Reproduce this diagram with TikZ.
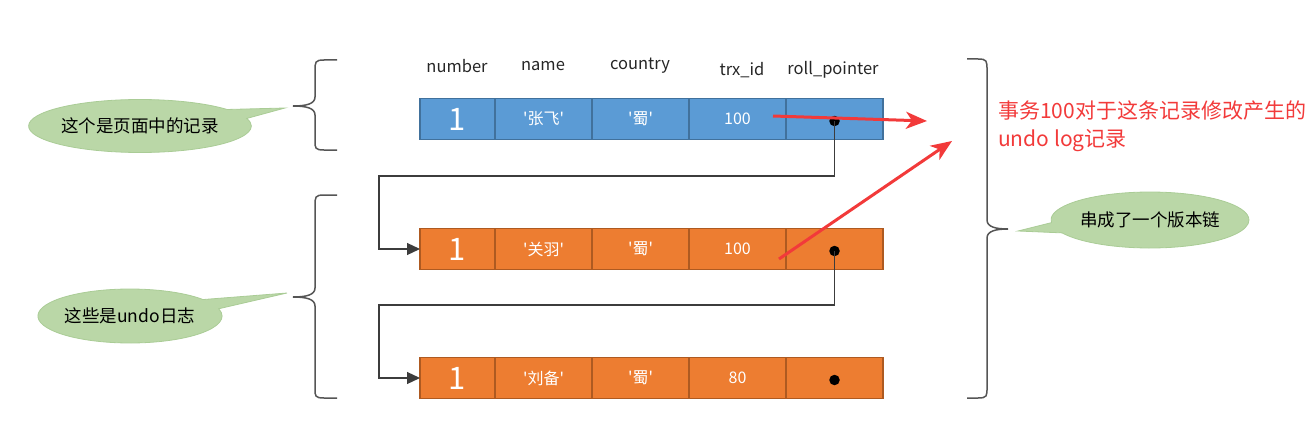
\documentclass[tikz,border=0pt]{standalone}
\usepackage{fontspec}
\setmainfont{Noto Sans CJK SC}
\usetikzlibrary{positioning,arrows.meta,shapes.callouts}

\definecolor{pagefill}{RGB}{91,155,213}
\definecolor{pageedge}{RGB}{65,113,156}
\definecolor{undofill}{RGB}{237,125,49}
\definecolor{undoedge}{RGB}{174,90,33}
\definecolor{bubblefill}{RGB}{186,215,167}
\definecolor{bubbleedge}{RGB}{170,204,150}
\definecolor{markred}{RGB}{242,58,58}
\definecolor{linegray}{RGB}{60,60,60}
\definecolor{bracegray}{RGB}{85,85,85}

\newcommand{\squote}{\textquotesingle}

\tikzset{
  cell/.style={minimum height=41pt, minimum width=97pt, inner sep=0pt, outer sep=0pt,
    line width=1.5pt, text=white, font=\fontsize{16}{16}\selectfont},
  pagecell/.style={cell, draw=pageedge, fill=pagefill},
  undocell/.style={cell, draw=undoedge, fill=undofill},
  numcell/.style={minimum width=75pt, font=\fontsize{31}{31}\selectfont},
  colhead/.style={text=black!85, font=\fontsize{16.5}{16.5}\selectfont},
  dot/.style={circle, fill=black, inner sep=0pt, minimum size=10.5pt},
  chain/.style={draw=linegray, line width=1.2pt, -{Triangle[length=13pt,width=12pt]}},
  redmark/.style={draw=markred, line width=3pt, -{Stealth[length=21pt,width=17pt,inset=6pt]}},
  curly/.style={draw=bracegray, line width=1.5pt},
  bubble/.style={ellipse callout, fill=bubblefill, draw=bubbleedge, line width=0.8pt,
    callout pointer arc=22, inner sep=0pt, font=\fontsize{17.5}{17.5}\selectfont},
  note/.style={text=markred, align=left, inner sep=0pt, font=\fontsize{21}{28}\selectfont}
}

\begin{document}
\begin{tikzpicture}[x=1pt, y=-1pt]
  \useasboundingbox (0,0) rectangle (1316,428);

  % column titles
  \node[colhead] (hnumber) at (457,66) {number};
  \node[colhead] (hname) at (543,66) {name};
  \node[colhead] (hcountry) at (640,66) {country};
  \node[colhead] (htrx) at (742,70) {trx\_id};
  \node[colhead] (hroll) at (833,70) {roll\_pointer};

  % record in the page
  \node[pagecell, numcell, anchor=west] (p1) at (420,119) {1};
  \node[pagecell, right=0pt of p1] (p2) {\squote 张飞\squote};
  \node[pagecell, right=0pt of p2] (p3) {\squote 蜀\squote};
  \node[pagecell, right=0pt of p3] (p4) {100};
  \node[pagecell, right=0pt of p4] (p5) {};

  % undo log records
  \node[undocell, numcell, anchor=west] (q1) at (420,249) {1};
  \node[undocell, right=0pt of q1] (q2) {\squote 关羽\squote};
  \node[undocell, right=0pt of q2] (q3) {\squote 蜀\squote};
  \node[undocell, right=0pt of q3] (q4) {100};
  \node[undocell, right=0pt of q4] (q5) {};

  \node[undocell, numcell, anchor=west] (r1) at (420,378) {1};
  \node[undocell, right=0pt of r1] (r2) {\squote 刘备\squote};
  \node[undocell, right=0pt of r2] (r3) {\squote 蜀\squote};
  \node[undocell, right=0pt of r3] (r4) {80};
  \node[undocell, right=0pt of r4] (r5) {};

  \node[dot] (dp) at ([yshift=-2pt]p5.center) {};
  \node[dot] (dq) at ([yshift=-2pt]q5.center) {};
  \node[dot] (dr) at ([yshift=-2pt]r5.center) {};

  % version chain
  \coordinate (k1) at (379,176);
  \coordinate (k2) at (379,305);
  \draw[chain] (dp.center) |- (k1) |- (q1.west);
  \draw[chain] (dq.center) |- (k2) |- (r1.west);

  % braces
  \draw[curly] (337,60) -- (324,60) .. controls (315,60) and (315,62) .. (315,71)
    -- (315,97) .. controls (315,104) and (306,106) .. (293,106)
    .. controls (306,106) and (315,108) .. (315,115)
    -- (315,141) .. controls (315,148) and (315,150) .. (324,150) -- (337,150);
  \draw[curly] (337,195) -- (324,195) .. controls (315,195) and (315,197) .. (315,206)
    -- (315,288) .. controls (315,295) and (306,297) .. (293,297)
    .. controls (306,297) and (315,299) .. (315,306)
    -- (315,389) .. controls (315,396) and (315,398) .. (324,398) -- (337,398);
  \draw[curly] (967,59) -- (978,59) .. controls (987,59) and (987,61) .. (987,70)
    -- (987,220) .. controls (987,227) and (996,229) .. (1008,229)
    .. controls (996,229) and (987,231) .. (987,238)
    -- (987,388) .. controls (987,396) and (987,398) .. (978,398) -- (967,398);

  % call-outs
  \coordinate (tip1) at (285,108);
  \coordinate (tip2) at (287,293);
  \coordinate (tip3) at (1018,231);
  \node[bubble, minimum width=204pt, minimum height=53pt, callout absolute pointer={(tip1)}]
    (b1) at (140,126) {这个是页面中的记录};
  \node[bubble, minimum width=184pt, minimum height=54pt, callout absolute pointer={(tip2)}]
    (b2) at (130,316) {这些是undo日志};
  \node[bubble, minimum width=186pt, minimum height=56pt, callout absolute pointer={(tip3)}]
    (b3) at (1150,220) {串成了一个版本链};

  % red remarks
  \node[note, anchor=north west] (remark) at (998,101) {事务100对于这条记录修改产生的\\undo log记录};
  \coordinate (s1) at (773,116);
  \coordinate (t1) at (927,121);
  \coordinate (s2) at (779,259);
  \coordinate (t2) at (952,141);
  \draw[redmark] (s1) -- (t1);
  \draw[redmark] (s2) -- (t2);
\end{tikzpicture}
\end{document}
